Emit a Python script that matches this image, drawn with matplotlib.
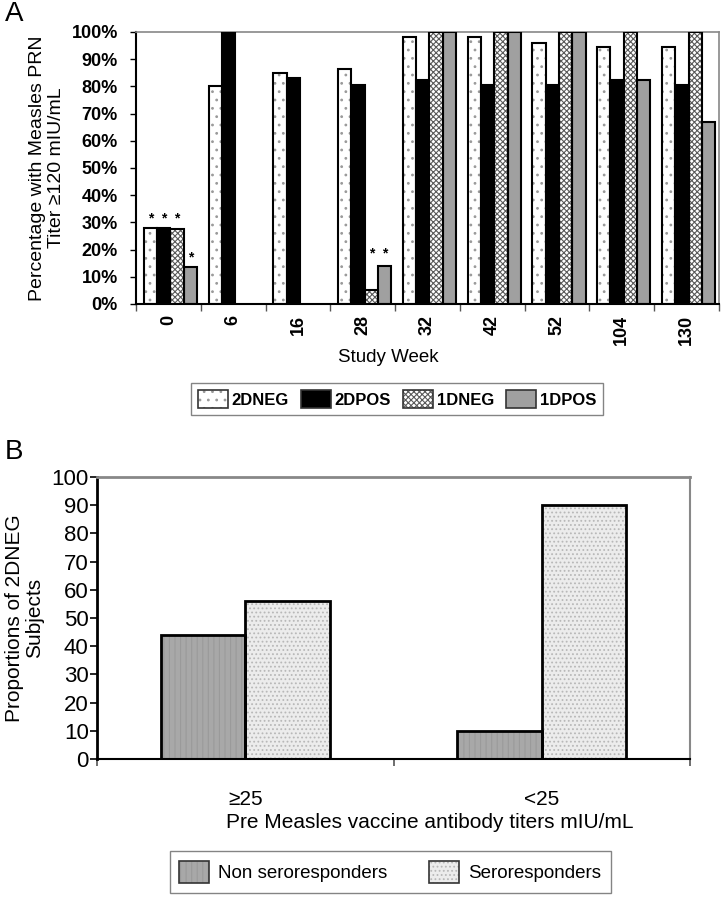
import matplotlib
matplotlib.use('Agg')
import matplotlib.pyplot as plt
from matplotlib.patches import Patch
from matplotlib.legend_handler import HandlerTuple
import numpy as np

plt.rcParams['font.family'] = ['Liberation Sans', 'DejaVu Sans']
plt.rcParams['hatch.linewidth'] = 0.8

# ---- panel A data ----
weeks = ['0', '6', '16', '28', '32', '42', '52', '104', '130']
dneg2 = [28, 80, 85, 86.5, 98.3, 98.3, 96, 94.5, 94.5]
dpos2 = [28, 100, 83, 80.5, 82.5, 80.5, 80.5, 82.5, 80.5]
dneg1 = [27.5, np.nan, np.nan, 5, 100, 100, 100, 100, 100]
dpos1 = [13.5, np.nan, np.nan, 14, 100, 100, 100, 82.5, 67]
groups_a = ['2DNEG', '2DPOS', '1DNEG', '1DPOS']
# '*' marks: (week index, series index, height in %)
stars_a = [(0, 0, 29), (0, 1, 29), (0, 2, 29), (0, 3, 14.5),
           (3, 2, 16), (3, 3, 16)]

# ---- panel B data ----
titer_cats = ['\u226525', '<25']
non_resp = [44, 10]
sero_resp = [56, 90]
groups_b = ['Non seroresponders', 'Seroresponders']

# fill styles: (facecolor, hatch, hatch colour)
style_a = [('white', '..', '#9a9a9a'),
           ('black', None, 'black'),
           ('white', 'xxxxxx', '#5a5a5a'),
           ('#a0a0a0', None, '#a0a0a0')]
style_b = [('#a8a8a8', '|||', '#9a9a9a'),
           ('#ececec', '....', '#b8b8b8')]

W, H = 723, 899
fig = plt.figure(figsize=(W / 100, H / 100), dpi=100)


def fbox(x0, y0, x1, y1):
    return [x0 / W, 1 - y1 / H, (x1 - x0) / W, (y1 - y0) / H]


def hbar(ax, x, h, width, st, lw=1.5):
    fc, hatch, hc = st
    ax.bar(x, h, width, color=fc, hatch=hatch, edgecolor=hc, lw=0, zorder=2)
    ax.bar(x, h, width, fill=False, edgecolor='black', lw=lw, zorder=3)


def legend_handles(styles):
    hs = []
    for fc, hatch, hc in styles:
        hs.append((Patch(facecolor=fc, hatch=hatch, edgecolor=hc, lw=0),
                   Patch(fill=False, edgecolor='#333333', lw=1.2)))
    return hs


# ================= panel A =================
ax = fig.add_axes(fbox(136, 32, 719, 304))
x = np.arange(len(weeks))
bw = 0.205
series = [dneg2, dpos2, dneg1, dpos1]
for i, vals in enumerate(series):
    xi = x + (i - 1.5) * bw + 0.03
    hbar(ax, xi, vals, bw, style_a[i])
for wi, si, yv in stars_a:
    ax.text(x[wi] + (si - 1.5) * bw + 0.03, yv, '*',
            ha='center', va='bottom', fontsize=10, fontweight='bold')

ax.set_xlim(-0.5, len(weeks) - 0.5)
ax.set_ylim(0, 100)
ax.set_yticks(np.arange(0, 101, 10))
ax.set_yticklabels(['%d%%' % v for v in range(0, 101, 10)],
                   fontsize=13, fontweight='bold')
ax.set_xticks(x)
ax.set_xticklabels(weeks, rotation=90, fontsize=13, fontweight='bold')
ax.set_xticks(np.arange(-0.5, len(weeks)), minor=True)
ax.tick_params(axis='x', which='major', length=0, pad=8)
ax.tick_params(axis='x', which='minor', length=5, width=1, color='#555555')
ax.tick_params(axis='y', length=4, width=1, pad=9)
for s in ['left', 'bottom']:
    ax.spines[s].set_linewidth(1.5)
for s in ['top', 'right']:
    ax.spines[s].set_color('#888888')
    ax.spines[s].set_linewidth(1.2)
ax.set_ylabel('Percentage with Measles PRN\nTiter \u2265120 mIU/mL',
              fontsize=14, linespacing=1.1, labelpad=5)
fig.text(388 / W, 1 - 358 / H, 'Study Week', ha='center', va='center',
         fontsize=13.5)
fig.text(14 / W, 1 - 14 / H, 'A', ha='center', va='center', fontsize=20)

fig.legend(legend_handles(style_a), groups_a, loc='center',
           bbox_to_anchor=(397 / W, 1 - 399 / H), ncol=4,
           prop={'weight': 'bold', 'size': 12},
           handler_map={tuple: HandlerTuple(ndivide=1)},
           handlelength=1.8, handleheight=1.35, handletextpad=0.25,
           columnspacing=0.7, frameon=True, fancybox=False,
           edgecolor='#666666', borderpad=0.4)

# ================= panel B =================
bx = fig.add_axes(fbox(97, 477, 690, 759))
xb = np.arange(len(titer_cats))
bwb = 0.285
hbar(bx, xb - bwb / 2, non_resp, bwb, style_b[0], lw=2)
hbar(bx, xb + bwb / 2, sero_resp, bwb, style_b[1], lw=2)
bx.set_xlim(-0.5, len(titer_cats) - 0.5)
bx.set_ylim(0, 100)
bx.set_yticks(np.arange(0, 101, 10))
bx.tick_params(axis='y', labelsize=16, length=5, width=1.2, pad=1)
bx.set_xticks(xb)
bx.set_xticklabels(titer_cats, fontsize=15)
bx.set_xticks([-0.5, 0.5, 1.5], minor=True)
bx.tick_params(axis='x', which='major', length=0, pad=22)
bx.tick_params(axis='x', which='minor', length=5, width=1.2, color='#555555')
bx.spines['left'].set_linewidth(2)
bx.spines['bottom'].set_linewidth(1.5)
bx.spines['top'].set_color('#888888')
bx.spines['top'].set_linewidth(2)
bx.spines['right'].set_color('#888888')
bx.spines['right'].set_linewidth(1.5)
bx.set_ylabel('Proportions of 2DNEG\nSubjects', fontsize=15, linespacing=1.1,
              labelpad=5)
fig.text(430 / W, 1 - 822 / H, 'Pre Measles vaccine antibody titers mIU/mL',
         ha='center', va='center', fontsize=15)
fig.text(14 / W, 1 - 452 / H, 'B', ha='center', va='center', fontsize=20)

fig.legend(legend_handles(style_b), groups_b, loc='center',
           bbox_to_anchor=(390 / W, 1 - 872 / H), ncol=2, fontsize=13.5,
           handler_map={tuple: HandlerTuple(ndivide=1)},
           handlelength=1.6, handleheight=1.5, handletextpad=0.5,
           columnspacing=2.2, frameon=True, fancybox=False,
           edgecolor='#666666', borderpad=0.5)

fig.savefig('out.png', dpi=100)
